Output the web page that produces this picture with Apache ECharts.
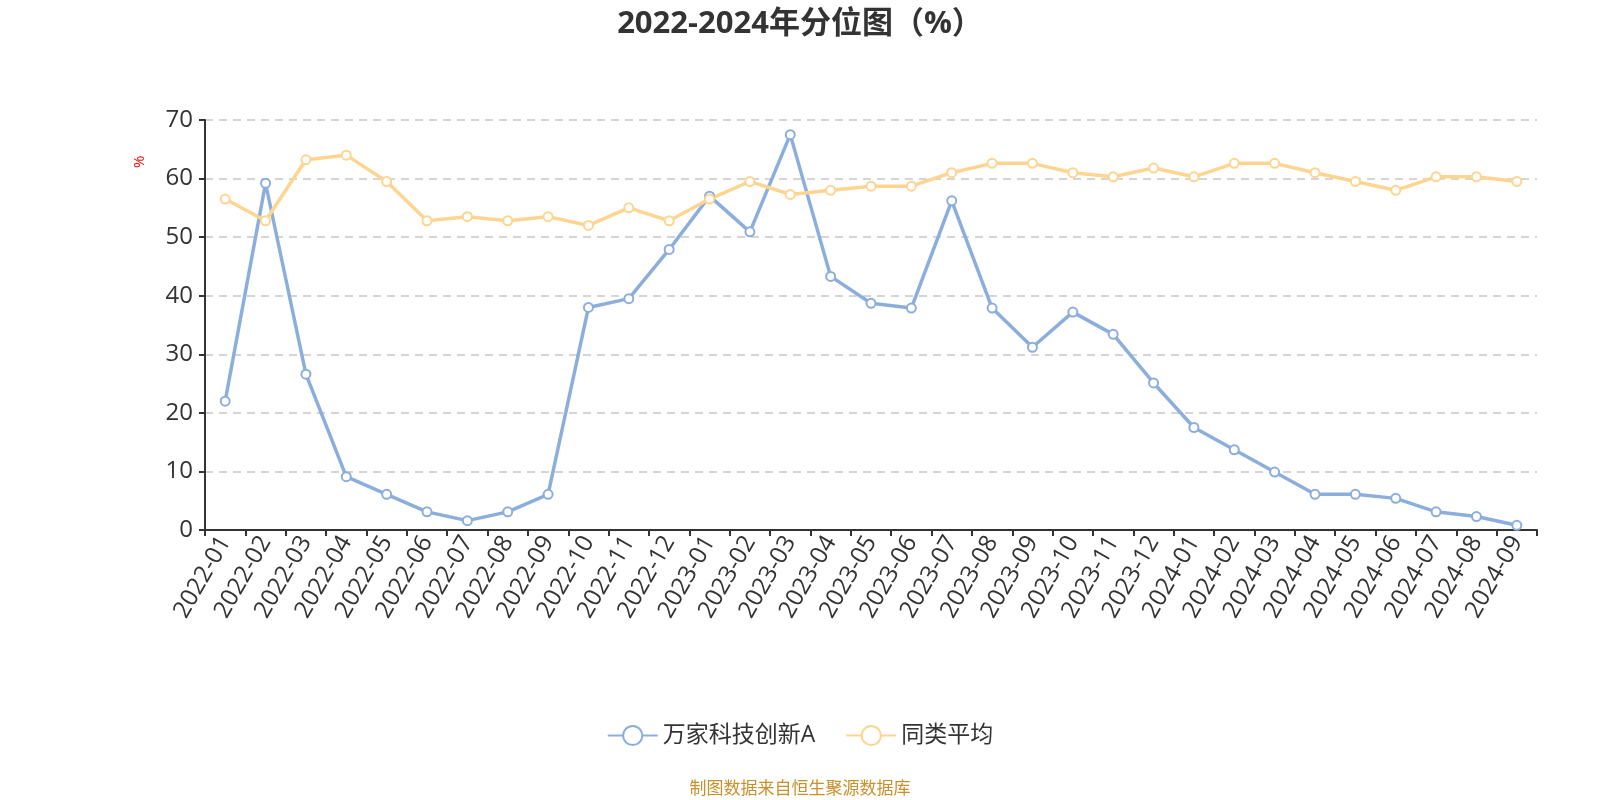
<!DOCTYPE html>
<html><head><meta charset="utf-8">
<script src="https://cdn.jsdelivr.net/npm/echarts@6/dist/echarts.min.js"></script>
<style>html,body{margin:0;padding:0;background:#fff}#c{width:1600px;height:800px}</style>
</head><body><div id="c"></div>
<script>
const categories = ['2022-01','2022-02','2022-03','2022-04','2022-05','2022-06','2022-07','2022-08','2022-09','2022-10','2022-11','2022-12',
'2023-01','2023-02','2023-03','2023-04','2023-05','2023-06','2023-07','2023-08','2023-09','2023-10','2023-11','2023-12',
'2024-01','2024-02','2024-03','2024-04','2024-05','2024-06','2024-07','2024-08','2024-09'];
const fundValues = [22.0,59.2,26.6,9.1,6.1,3.1,1.6,3.1,6.1,38.0,39.5,47.9,
57.0,50.9,67.5,43.3,38.7,37.9,56.2,37.9,31.2,37.2,33.4,25.1,
17.5,13.7,9.9,6.1,6.1,5.4,3.1,2.3,0.8];
const avgValues = [56.5,52.8,63.2,64.0,59.5,52.8,53.5,52.8,53.5,52.0,55.0,52.8,
56.5,59.5,57.3,58.0,58.7,58.7,61.0,62.6,62.6,61.0,60.3,61.8,
60.3,62.6,62.6,61.0,59.5,58.0,60.3,60.3,59.5];
const seriesNames = ['万家科技创新A','同类平均'];
const yTicks = [0,70,10];

const font = '"Open Sans", "Noto Sans CJK SC", sans-serif';
const chart = echarts.init(document.getElementById('c'));
chart.setOption({
  animation:false,
  textStyle:{fontFamily:font},
  title:{text:'2022-2024年分位图（%）',left:'center',top:4,textStyle:{fontSize:31,fontWeight:'bold',color:'#333',fontFamily:font}},
  legend:{data:seriesNames,bottom:48,itemWidth:50,itemHeight:24,itemGap:30,textStyle:{fontSize:23,color:'#333',fontFamily:font}},
  grid:{left:205,right:63,top:120,bottom:270,containLabel:false},
  graphic:[
    {type:'text',left:'center',bottom:2,style:{text:'制图数据来自恒生聚源数据库',fill:'#c8902a',fontSize:17,fontFamily:font}},
    {type:'text',x:132,y:168,rotation:Math.PI/2,style:{text:'%',fill:'#ff0000',fontSize:15,fontFamily:font}}
  ],
  xAxis:{type:'category',data:categories,boundaryGap:true,
    axisLine:{lineStyle:{color:'#333',width:2}},
    axisTick:{show:true,alignWithLabel:false,length:6,lineStyle:{color:'#333',width:2}},
    axisLabel:{rotate:60,fontSize:24,color:'#333',interval:0,margin:8,fontFamily:font}},
  yAxis:{type:'value',min:yTicks[0],max:yTicks[1],interval:yTicks[2],
    axisLine:{show:true,lineStyle:{color:'#333',width:2}},
    axisTick:{show:true,length:6,lineStyle:{color:'#333',width:2}},
    axisLabel:{fontSize:24,color:'#333',margin:12,fontFamily:font},
    splitLine:{lineStyle:{type:[8,6],color:'#c8c8c8',width:1.5}}},
  series:[
    {name:seriesNames[0],type:'line',data:fundValues,symbol:'emptyCircle',symbolSize:9,
     itemStyle:{color:'#8caedc',borderWidth:2},lineStyle:{width:3.5,color:'#8caedc'}},
    {name:seriesNames[1],type:'line',data:avgValues,symbol:'emptyCircle',symbolSize:9,
     itemStyle:{color:'#fdd591',borderWidth:2},lineStyle:{width:3.5,color:'#fdd591'}}
  ]
});
</script></body></html>
